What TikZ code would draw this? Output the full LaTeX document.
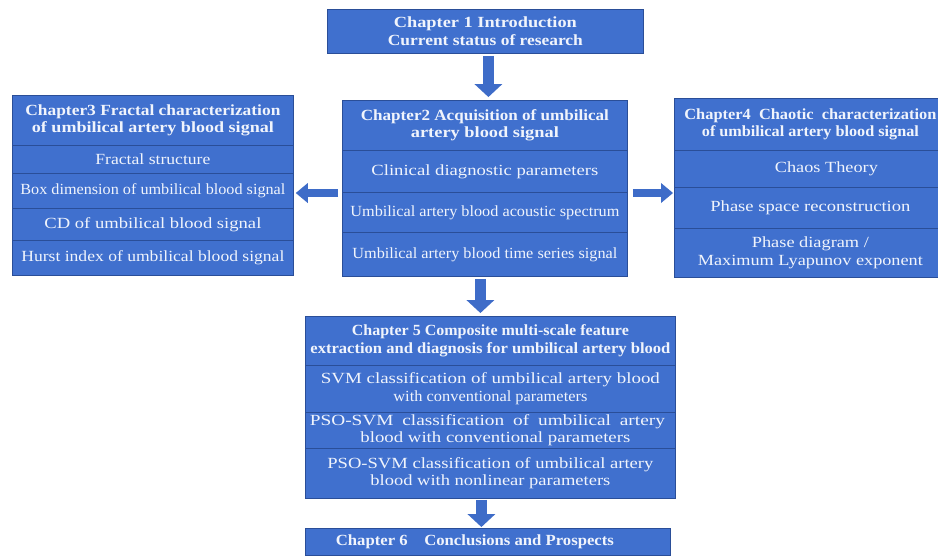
\documentclass[tikz,border=0pt]{standalone}
\usepackage{graphicx}
\usepackage{fontspec}
\setmainfont{Liberation Serif}
\usetikzlibrary{arrows.meta}
\definecolor{boxblue}{RGB}{64,112,206}
\definecolor{boxline}{RGB}{42,78,152}
\definecolor{arrowblue}{RGB}{62,108,200}
\definecolor{txt}{RGB}{240,244,252}
\newcommand{\fitline}[2]{\resizebox{#1pt}{\height}{#2}}
\tikzset{
  cell/.style={draw=boxline, fill=boxblue, line width=0.8pt, inner sep=0pt,
    anchor=north west, text=txt, align=center,
    font=\fontsize{15.5}{17.5}\selectfont},
  headcell/.style={cell, font=\fontsize{15.5}{17.5}\selectfont\bfseries},
  vbar/.style={draw=arrowblue, line width=11pt,
    -{Triangle[width=28pt,length=13pt,line width=0pt]}},
  hbar/.style={draw=arrowblue, line width=8pt,
    -{Triangle[width=20pt,length=12pt,line width=0pt]}}
}
\begin{document}
\begin{tikzpicture}[x=1pt,y=-1pt]
\fill[white] (0,0) rectangle (938,555);
\useasboundingbox (0,0) rectangle (938,555);

% Chapter 1
\node[headcell, minimum width=316pt, minimum height=44pt] (ch1) at (327,9)
  {\fitline{183}{Chapter 1 Introduction}\\\fitline{195}{Current status of research}};

% Chapter 2
\node[headcell, minimum width=285pt, minimum height=50pt] (ch2t) at (342,100)
  {\fitline{248}{Chapter2 Acquisition of umbilical}\\\fitline{148}{artery blood signal}};
\node[cell, minimum width=285pt, minimum height=42pt] (ch2a) at (342,150)
  {\fitline{227}{Clinical diagnostic parameters}};
\node[cell, minimum width=285pt, minimum height=40pt] (ch2b) at (342,192)
  {\fitline{269}{Umbilical artery blood acoustic spectrum}};
\node[cell, minimum width=285pt, minimum height=44pt] (ch2c) at (342,232)
  {\fitline{265}{Umbilical artery blood time series signal}};

% Chapter 3
\node[headcell, minimum width=281pt, minimum height=50pt] (ch3t) at (12,95)
  {\fitline{255}{Chapter3 Fractal characterization}\\\fitline{242}{of umbilical artery blood signal}};
\node[cell, minimum width=281pt, minimum height=28pt] (ch3a) at (12,145)
  {\fitline{115}{Fractal structure}};
\node[cell, minimum width=281pt, minimum height=35pt] (ch3b) at (12,173)
  {\fitline{265}{Box dimension of umbilical blood signal}};
\node[cell, minimum width=281pt, minimum height=32pt] (ch3c) at (12,208)
  {\fitline{217}{CD of umbilical blood signal}};
\node[cell, minimum width=281pt, minimum height=35pt] (ch3d) at (12,240)
  {\fitline{263}{Hurst index of umbilical blood signal}};

% Chapter 4
\node[headcell, minimum width=272pt, minimum height=52pt] (ch4t) at (674,98)
  {\fitline{252}{Chapter4~~Chaotic~~characterization}\\\fitline{217}{of umbilical artery blood signal}};
\node[cell, minimum width=272pt, minimum height=37pt] (ch4a) at (674,150)
  {\hspace*{32pt}\fitline{103}{Chaos Theory}};
\node[cell, minimum width=272pt, minimum height=41pt] (ch4b) at (674,187)
  {\fitline{200}{Phase space reconstruction}};
\node[cell, minimum width=272pt, minimum height=49pt] (ch4c) at (674,228)
  {\fitline{117}{Phase diagram /}\\\fitline{225}{Maximum Lyapunov exponent}};

% Chapter 5
\node[headcell, minimum width=370pt, minimum height=49pt] (ch5t) at (305,316)
  {\fitline{277}{Chapter 5 Composite multi-scale feature}\\\fitline{360}{extraction and diagnosis for umbilical artery blood}};
\node[cell, minimum width=370pt, minimum height=47pt] (ch5a) at (305,365)
  {\fitline{339}{SVM classification of umbilical artery blood}\\\fitline{194}{with conventional parameters}};
\node[cell, minimum width=370pt, minimum height=36pt] (ch5b) at (305,412)
  {\hspace*{-6pt}\fitline{355}{\makebox[285pt][s]{PSO-SVM classification of umbilical artery}}\\\hspace*{10pt}\fitline{270}{blood with conventional parameters}};
\node[cell, minimum width=370pt, minimum height=50pt] (ch5c) at (305,448)
  {\fitline{326}{PSO-SVM classification of umbilical artery}\\\fitline{240}{blood with nonlinear parameters}};

% Chapter 6
\node[headcell, minimum width=365pt, minimum height=27pt] (ch6) at (305,528)
  {\hspace*{-26pt}\fitline{278}{Chapter 6\quad Conclusions and Prospects}};

% Arrows
\draw[vbar, shorten <=2pt, shorten >=3pt]
  ([xshift=3pt]ch1.south) -- ([xshift=3pt]ch1.south |- ch2t.north);
\draw[vbar, shorten <=2pt, shorten >=3pt]
  ([xshift=-4.5pt]ch2c.south) -- ([xshift=-4.5pt]ch2c.south |- ch5t.north);
\draw[vbar, shorten <=1pt, shorten >=1pt]
  ([xshift=-9pt]ch5c.south) -- ([xshift=-9pt]ch5c.south |- ch6.north);
\draw[hbar, shorten <=4pt, shorten >=2pt]
  ([yshift=-1pt]ch2b.north west) -- ([yshift=-1pt]ch2b.north west -| ch3b.east);
\draw[hbar, shorten <=5pt, shorten >=1pt]
  ([yshift=-1pt]ch2b.north east) -- ([yshift=-1pt]ch2b.north east -| ch4b.west);
\end{tikzpicture}
\end{document}
